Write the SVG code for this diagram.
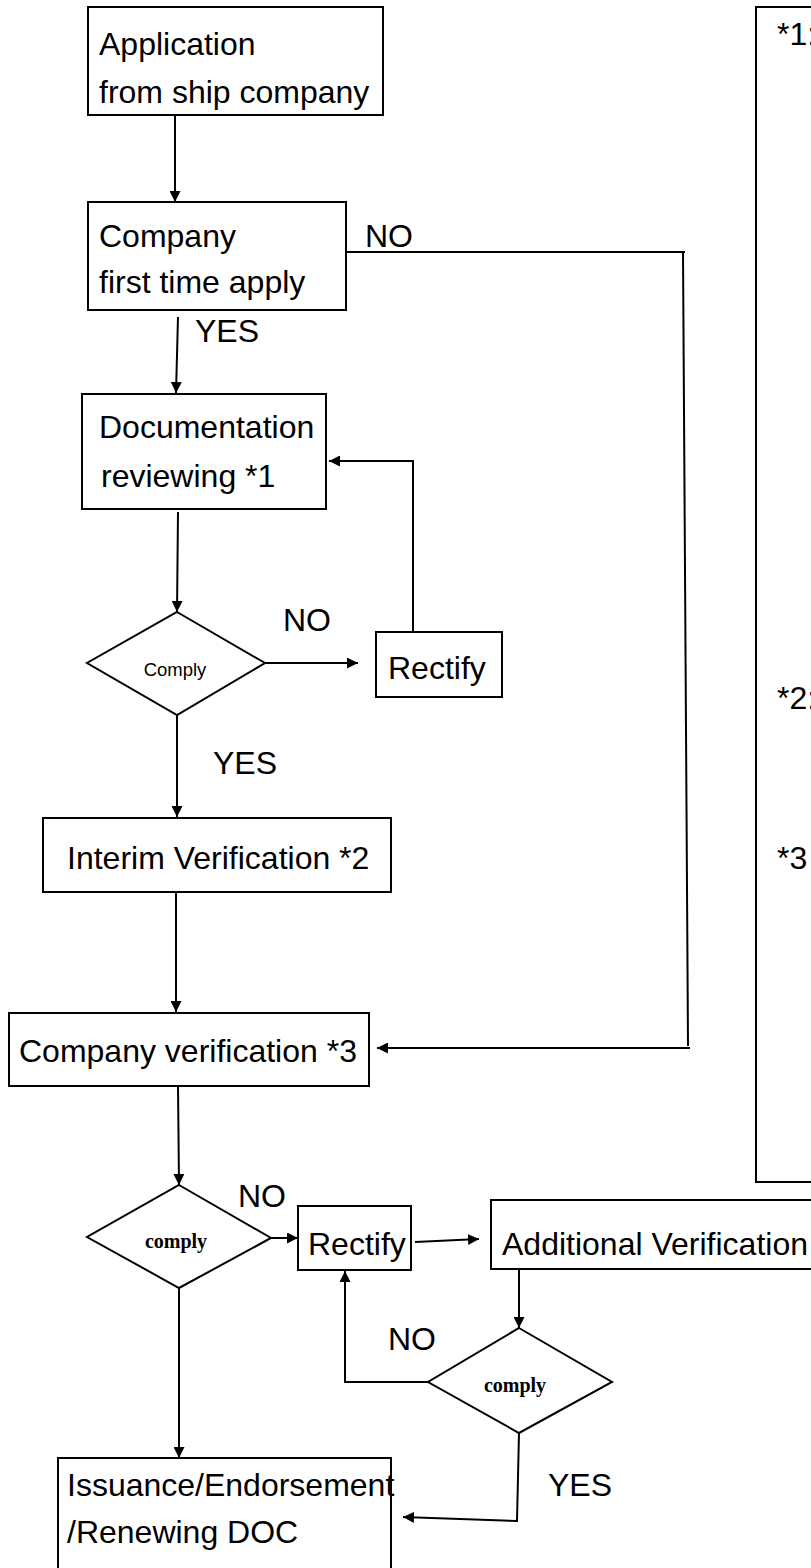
<svg xmlns="http://www.w3.org/2000/svg" width="811" height="1568" viewBox="0 0 811 1568">
<style>
.box{fill:none;stroke:#000;stroke-width:2}
.ln{fill:none;stroke:#000;stroke-width:2}
.t{font-family:"Liberation Sans",Arial,sans-serif;font-size:32px;fill:#000}
.s{font-family:"Liberation Sans",Arial,sans-serif;font-size:18.5px;fill:#000}
.m{font-family:"Liberation Serif","Times New Roman",serif;font-size:20px;font-weight:bold;fill:#000}
</style>
<defs>
<marker id="ah" viewBox="0 0 10 10" refX="10" refY="5" markerWidth="11" markerHeight="11" markerUnits="userSpaceOnUse" orient="auto">
<path d="M0,0 L10,5 L0,10 z" fill="#000"/>
</marker>
</defs>
<rect width="811" height="1568" fill="#fff"/>
<g id="n-application"><rect class="box" x="88" y="7" width="295" height="108"/><text class="t" x="99" y="55">Application</text><text class="t" x="99" y="103">from ship company</text></g>
<g id="n-first"><rect class="box" x="88" y="202" width="258" height="108"/><text class="t" x="99" y="247">Company</text><text class="t" x="99" y="293">first time apply</text></g>
<g id="n-doc"><rect class="box" x="82" y="394" width="244" height="115"/><text class="t" x="99" y="438">Documentation</text><text class="t" x="101" y="487">reviewing *1</text></g>
<g id="n-comply1"><polygon class="box" points="177,612 265,663 177,715 87,663"/><text class="s" x="175" y="676" text-anchor="middle">Comply</text></g>
<g id="n-rectify1"><rect class="box" x="376" y="632" width="126" height="65"/><text class="t" x="388" y="679">Rectify</text></g>
<g id="n-interim"><rect class="box" x="43" y="818" width="348" height="74"/><text class="t" x="67" y="869">Interim Verification *2</text></g>
<g id="n-compver"><rect class="box" x="9" y="1013" width="360" height="73"/><text class="t" x="19" y="1062">Company verification *3</text></g>
<g id="n-comply2"><polygon class="box" points="179,1185 271,1238 179,1288 87,1237"/><text class="m" x="176" y="1248" text-anchor="middle">comply</text></g>
<g id="n-rectify2"><rect class="box" x="298" y="1206" width="113" height="64"/><text class="t" x="308" y="1255">Rectify</text></g>
<g id="n-additional"><rect class="box" x="491" y="1200" width="340" height="69"/><text class="t" x="502" y="1255">Additional Verification</text></g>
<g id="n-comply3"><polygon class="box" points="519,1328 612,1382 519,1433 428,1382"/><text class="m" x="515" y="1392" text-anchor="middle">comply</text></g>
<g id="n-issuance"><rect class="box" x="58" y="1458" width="333" height="130"/><text class="t" x="67" y="1496">Issuance/Endorsement</text><text class="t" x="67" y="1543">/Renewing DOC</text></g>
<g id="n-notes"><rect class="box" x="756" y="7" width="80" height="1175"/><text class="t" x="777" y="45">*1:</text><text class="t" x="777" y="709">*2:</text><text class="t" x="777" y="869">*3</text></g>
<g id="connectors">
<line class="ln" x1="175" y1="115" x2="175" y2="202" marker-end="url(#ah)"/>
<line class="ln" x1="178" y1="317" x2="176" y2="393" marker-end="url(#ah)"/>
<line class="ln" x1="178" y1="512" x2="177" y2="612" marker-end="url(#ah)"/>
<line class="ln" x1="265" y1="663" x2="358" y2="663" marker-end="url(#ah)"/>
<polyline class="ln" points="413,632 413,461 329,461" marker-end="url(#ah)"/>
<line class="ln" x1="177" y1="715" x2="177" y2="817" marker-end="url(#ah)"/>
<line class="ln" x1="176" y1="892" x2="176" y2="1012" marker-end="url(#ah)"/>
<polyline class="ln" points="346,252 685,252"/>
<line class="ln" x1="683" y1="252" x2="688" y2="1046"/>
<line class="ln" x1="690" y1="1048" x2="377" y2="1048" marker-end="url(#ah)"/>
<line class="ln" x1="178" y1="1086" x2="179" y2="1185" marker-end="url(#ah)"/>
<line class="ln" x1="271" y1="1238" x2="298" y2="1238" marker-end="url(#ah)"/>
<line class="ln" x1="415" y1="1242" x2="479" y2="1239" marker-end="url(#ah)"/>
<line class="ln" x1="519" y1="1269" x2="519" y2="1328" marker-end="url(#ah)"/>
<polyline class="ln" points="428,1382 345,1382 345,1271" marker-end="url(#ah)"/>
<polyline class="ln" points="519,1433 517,1521 403,1517" marker-end="url(#ah)"/>
<line class="ln" x1="179" y1="1288" x2="179" y2="1458" marker-end="url(#ah)"/>
<text class="t" x="365" y="247">NO</text>
<text class="t" x="195" y="342">YES</text>
<text class="t" x="283" y="631">NO</text>
<text class="t" x="213" y="774">YES</text>
<text class="t" x="238" y="1207" font-size="30">NO</text>
<text class="t" x="388" y="1350" font-size="30">NO</text>
<text class="t" x="548" y="1496">YES</text>
</g>
</svg>
